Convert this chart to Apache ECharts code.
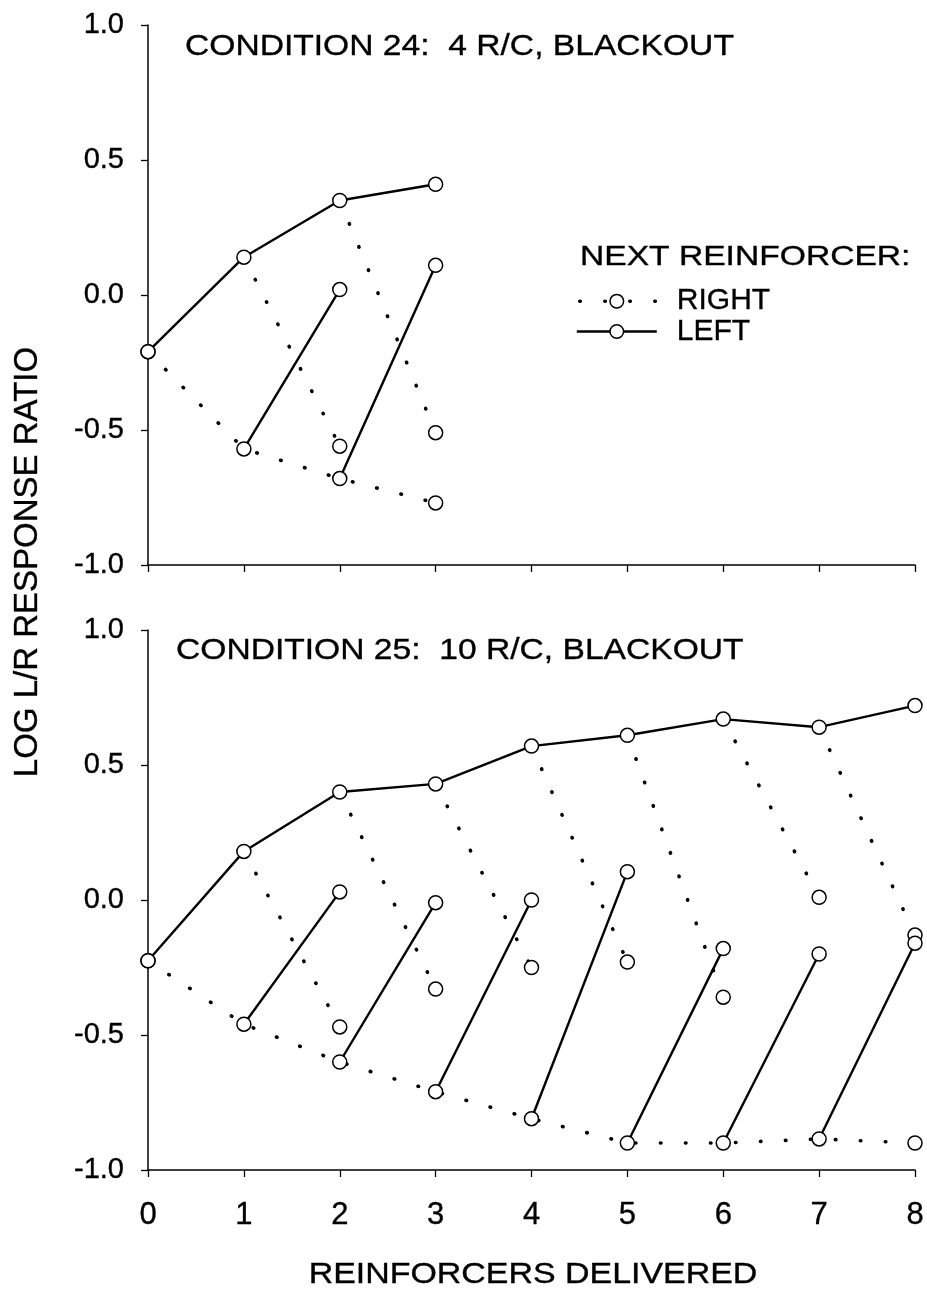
<!DOCTYPE html>
<html>
<head>
<meta charset="utf-8">
<script src="https://cdn.jsdelivr.net/npm/echarts@6/dist/echarts.min.js"></script>
<style>
  html, body { margin: 0; padding: 0; background: #fff; }
  #chart { width: 927px; height: 1291px; }
</style>
</head>
<body>
<div id="chart"></div>
<script>
// Reinforcers delivered (x positions) and y-axis range
const steps = [0, 1, 2, 3, 4, 5, 6, 7, 8];
const yMin = -1.0, yMax = 1.0, yStep = 0.5;

// Condition 24: 4 R/C, blackout
// allLeft: every reinforcer so far was a left one; allRight: every one was right.
// rightAfterLeft[k]: k-1 lefts followed by one right; leftAfterRight[k]: k-1 rights then one left.
const c24AllLeft        = [-0.21, 0.14, 0.35, 0.41];
const c24AllRight       = [-0.21, -0.57, -0.68, -0.77];
const c24RightAfterLeft = [null, null, -0.56, -0.51];
const c24LeftAfterRight = [null, null, 0.02, 0.11];

// Condition 25: 10 R/C, blackout
const c25AllLeft        = [-0.225, 0.18, 0.40, 0.43, 0.57, 0.61, 0.67, 0.64, 0.72];
const c25AllRight       = [-0.225, -0.46, -0.60, -0.71, -0.81, -0.90, -0.90, -0.885, -0.90];
const c25RightAfterLeft = [null, null, -0.47, -0.33, -0.25, -0.23, -0.36, 0.01, -0.13];
const c25LeftAfterRight = [null, null, 0.03, -0.01, 0.00, 0.105, -0.18, -0.20, -0.16];

const FONT = '"Liberation Sans", Arial, Helvetica, sans-serif';
const INK = { textBorderColor: '#000', textBorderWidth: 0.35 };
const solidLine  = { color: '#000', width: 2.4, type: 'solid' };
const dottedLine = { color: '#000', width: 3.6, type: [0.5, 24.5], cap: 'round' };
const markerStyle = { color: '#fff', borderColor: '#000', borderWidth: 1.5, opacity: 1 };

function lineSeries(g, name, data, style) {
  return {
    type: 'line', name, xAxisIndex: g, yAxisIndex: g, data,
    lineStyle: style, symbol: 'none', showSymbol: false,
    silent: true, z: 2, animation: false
  };
}

// Build all series for one panel: the two chains, the one-step branches, and the open-circle markers
function panelSeries(g, allLeft, allRight, rightAfterLeft, leftAfterRight) {
  const pts = arr => arr.map((v, i) => [steps[i], v]);
  const out = [
    lineSeries(g, 'LEFT', pts(allLeft), solidLine),
    lineSeries(g, 'RIGHT', pts(allRight), dottedLine)
  ];
  const marks = pts(allLeft).concat(pts(allRight));
  for (let k = 2; k < allLeft.length; k++) {
    if (rightAfterLeft[k] != null) {
      out.push(lineSeries(g, 'RIGHT', [[steps[k - 1], allLeft[k - 1]], [steps[k], rightAfterLeft[k]]], dottedLine));
      marks.push([steps[k], rightAfterLeft[k]]);
    }
    if (leftAfterRight[k] != null) {
      out.push(lineSeries(g, 'LEFT', [[steps[k - 1], allRight[k - 1]], [steps[k], leftAfterRight[k]]], solidLine));
      marks.push([steps[k], leftAfterRight[k]]);
    }
  }
  out.push({
    type: 'scatter', name: 'points', xAxisIndex: g, yAxisIndex: g, data: marks,
    symbol: 'circle', symbolSize: 14, itemStyle: markerStyle,
    silent: true, z: 3, animation: false
  });
  return out;
}

const axisLine = { onZero: false, lineStyle: { color: '#000', width: 1.5 } };
const axisTick = { length: 7, lineStyle: { color: '#000', width: 1.3 } };

function xAxis(g, showLabels) {
  return {
    type: 'value', gridIndex: g, min: steps[0], max: steps[steps.length - 1], interval: 1,
    axisLine, axisTick, splitLine: { show: false },
    axisLabel: Object.assign({
      show: showLabels, fontFamily: FONT, fontSize: 31, color: '#000', margin: 30,
      showMinLabel: true, showMaxLabel: true
    }, INK)
  };
}

function yAxis(g) {
  return {
    type: 'value', gridIndex: g, min: yMin, max: yMax, interval: yStep,
    axisLine, axisTick, splitLine: { show: false },
    axisLabel: Object.assign({
      fontFamily: FONT, fontSize: 29, color: '#000', margin: 24,
      showMinLabel: true, showMaxLabel: true,
      formatter: v => v.toFixed(1)
    }, INK)
  };
}

function label(text, x, y, size, opts) {
  return Object.assign({
    type: 'text', x, y, silent: true,
    style: {
      text, fill: '#000', fontFamily: FONT, fontSize: size,
      align: opts.align || 'left', textAlign: opts.align || 'left',
      verticalAlign: 'middle', textVerticalAlign: 'middle',
      stroke: '#000', lineWidth: 0.35
    }
  }, opts.el || {});
}

const chart = echarts.init(document.getElementById('chart'), null, { renderer: 'canvas' });

chart.setOption({
  backgroundColor: '#fff',
  animation: false,
  grid: [
    { left: 148, top: 25, width: 767, height: 540, outerBoundsMode: 'none' },
    { left: 148, top: 630, width: 767, height: 540, outerBoundsMode: 'none' }
  ],
  xAxis: [xAxis(0, false), xAxis(1, true)],
  yAxis: [yAxis(0), yAxis(1)],
  legend: {
    orient: 'vertical', left: 575, top: 286, padding: 0, itemGap: 0,
    itemWidth: 80, itemHeight: 17, selectedMode: false,
    itemStyle: markerStyle,
    textStyle: Object.assign({ fontFamily: FONT, fontSize: 30, color: '#000', lineHeight: 28, padding: [0, 0, 0, 15] }, INK),
    data: [
      { name: 'RIGHT', lineStyle: Object.assign({}, dottedLine, { dashOffset: -3 }) },
      { name: 'LEFT', lineStyle: solidLine }
    ]
  },
  graphic: [
    label('CONDITION 24:  4 R/C, BLACKOUT', 185, 47, 30, { el: { scaleX: 1.12 } }),
    label('CONDITION 25:  10 R/C, BLACKOUT', 176, 651, 30, { el: { scaleX: 1.12 } }),
    label('NEXT REINFORCER:', 580, 257, 28, { el: { scaleX: 1.2 } }),
    label('REINFORCERS DELIVERED', 533, 1275, 29, { align: 'center', el: { scaleX: 1.17 } }),
    label('LOG L/R RESPONSE RATIO', 28, 562, 33, { align: 'center', el: { rotation: Math.PI / 2 } })
  ],
  series: [].concat(
    panelSeries(0, c24AllLeft, c24AllRight, c24RightAfterLeft, c24LeftAfterRight),
    panelSeries(1, c25AllLeft, c25AllRight, c25RightAfterLeft, c25LeftAfterRight)
  )
});
</script>
</body>
</html>
